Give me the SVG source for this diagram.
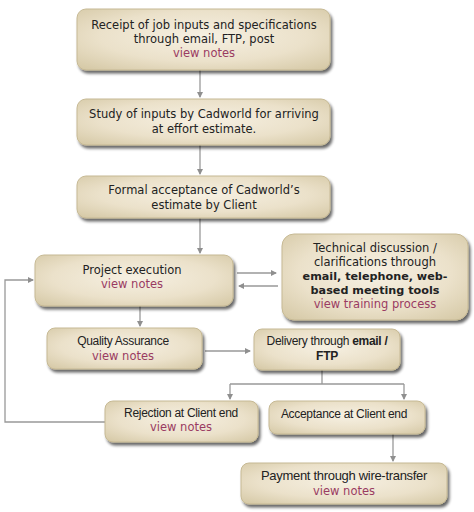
<svg xmlns="http://www.w3.org/2000/svg" width="474" height="512" viewBox="0 0 474 512">
<defs>
<radialGradient id="bg" cx="0.5" cy="0.45" r="0.75">
<stop offset="0" stop-color="#f6f0e2"/>
<stop offset="0.55" stop-color="#ebe1ca"/>
<stop offset="1" stop-color="#d3c6a2"/>
</radialGradient>
<filter id="sh" x="-10%" y="-10%" width="130%" height="140%">
<feGaussianBlur in="SourceAlpha" stdDeviation="1.5"/>
<feOffset dx="2" dy="3" result="b"/>
<feComponentTransfer><feFuncA type="linear" slope="0.6"/></feComponentTransfer>
<feMerge><feMergeNode/><feMergeNode in="SourceGraphic"/></feMerge>
</filter>
<marker id="ah" markerWidth="6" markerHeight="6" refX="5" refY="3" orient="auto" markerUnits="userSpaceOnUse">
<path d="M0,0 L6,3 L0,6 Z" fill="#8f8f8f"/>
</marker>
</defs>
<style>
.box{fill:url(#bg);stroke:#c6b994;stroke-width:1;filter:url(#sh)}
.v{font-family:"DejaVu Sans",Verdana,sans-serif;font-size:11.5px;fill:#222;text-anchor:middle}
.a{font-family:"Liberation Sans",Arial,sans-serif;font-size:12px;letter-spacing:-0.3px;fill:#222;text-anchor:middle}
.n{fill:#9a3b62}
.b{font-weight:bold}
.vb{font-size:11.2px}
.c{fill:none;stroke:#999;stroke-width:1.3}
</style>
<rect width="474" height="512" fill="#fff"/>
<g id="connectors">
<path class="c" d="M200,70 V97" marker-end="url(#ah)"/>
<path class="c" d="M200,145 V174" marker-end="url(#ah)"/>
<path class="c" d="M200,218 V253" marker-end="url(#ah)"/>
<path class="c" d="M237,273 H276" marker-end="url(#ah)"/>
<path class="c" d="M278,286 H239" marker-end="url(#ah)"/>
<path class="c" d="M140,306 V326" marker-end="url(#ah)"/>
<path class="c" d="M205,351 H250" marker-end="url(#ah)"/>
<path class="c" d="M322,370 V384 M230,384 H404"/>
<path class="c" d="M230,384 V399" marker-end="url(#ah)"/>
<path class="c" d="M404,384 V399" marker-end="url(#ah)"/>
<path class="c" d="M393,434 V461" marker-end="url(#ah)"/>
<path class="c" d="M105,422 H5 V280 H33" marker-end="url(#ah)"/>
</g>
<g id="n1">
<rect class="box" x="77" y="9" width="253" height="61" rx="9"/>
<text class="v" x="204" y="29">Receipt of job inputs and specifications</text>
<text class="v" x="204" y="43">through email, FTP, post</text>
<text class="v n" x="204" y="57">view notes</text>
</g>
<g id="n2">
<rect class="box" x="77" y="99" width="253" height="46" rx="9"/>
<text class="v" x="204" y="118">Study of inputs by Cadworld for arriving</text>
<text class="v" x="204" y="133">at effort estimate.</text>
</g>
<g id="n3">
<rect class="box" x="77" y="176" width="253" height="42" rx="9"/>
<text class="v" x="204" y="194">Formal acceptance of Cadworld’s</text>
<text class="v" x="204" y="209">estimate by Client</text>
</g>
<g id="n4">
<rect class="box" x="35" y="255" width="198" height="51" rx="9"/>
<text class="v" x="132" y="274">Project execution</text>
<text class="v n" x="132" y="288">view notes</text>
</g>
<g id="n5">
<rect class="box" x="282" y="234" width="186" height="86" rx="12"/>
<text class="v" x="375" y="252">Technical discussion /</text>
<text class="v" x="375" y="266">clarifications through</text>
<text class="v b vb" x="375" y="280">email, telephone, web-</text>
<text class="v b vb" x="375" y="294">based meeting tools</text>
<text class="v n" x="375" y="308">view training process</text>
</g>
<g id="n6">
<rect class="box" x="47" y="328" width="155" height="41" rx="8"/>
<text class="a" x="123" y="345">Quality Assurance</text>
<text class="v n" x="123" y="360">view notes</text>
</g>
<g id="n7">
<rect class="box" x="254" y="329" width="146" height="41" rx="8"/>
<text class="a" x="327" y="345">Delivery through <tspan class="b">email /</tspan></text>
<text class="a b" x="327" y="360">FTP</text>
</g>
<g id="n8">
<rect class="box" x="105" y="401" width="153" height="41" rx="8"/>
<text class="a" x="181" y="417">Rejection at Client end</text>
<text class="v n" x="181" y="431">view notes</text>
</g>
<g id="n9">
<rect class="box" x="269" y="401" width="156" height="33" rx="8"/>
<text class="a" x="344" y="418">Acceptance at Client end</text>
</g>
<g id="n10">
<rect class="box" x="241" y="463" width="206" height="41" rx="8"/>
<text class="a" x="344" y="480" style="font-size:13px">Payment through wire-transfer</text>
<text class="v n" x="344" y="495">view notes</text>
</g>
</svg>
